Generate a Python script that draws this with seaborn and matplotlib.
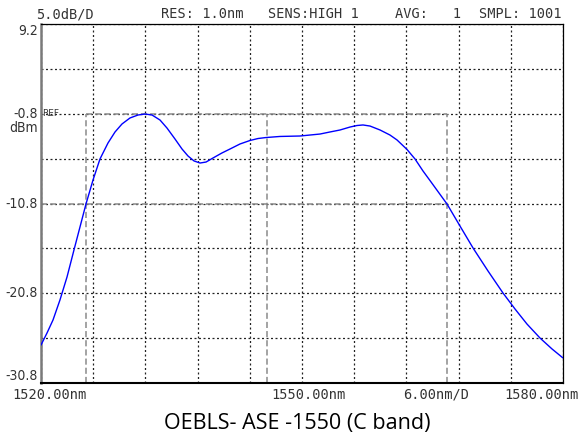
import numpy as np
import matplotlib
matplotlib.use('Agg')
import matplotlib.pyplot as plt
from matplotlib import font_manager
import pandas as pd
import seaborn as sns

# Trace (wavelength in nm, power in dBm)
wavelength_nm = [1520.00, 1520.69, 1521.38, 1522.18, 1522.99, 1523.79, 1524.48, 1525.17,
                 1525.98, 1526.78, 1527.70, 1528.51, 1529.31, 1530.23, 1531.15, 1531.95,
                 1532.76, 1533.68, 1534.48, 1535.40, 1536.21, 1536.90, 1537.59, 1538.28,
                 1538.97, 1539.77, 1540.80, 1541.72, 1542.87, 1544.02, 1544.94, 1545.86,
                 1547.47, 1549.77, 1552.07, 1553.22, 1554.37, 1555.52, 1556.32, 1557.01,
                 1557.82, 1558.97, 1560.11, 1560.92, 1562.07, 1562.99, 1563.91, 1564.83,
                 1565.75, 1566.67, 1568.16, 1569.66, 1571.38, 1573.10, 1574.48, 1575.86,
                 1577.36, 1578.74, 1580.00]
power_dbm = [-26.57, -25.23, -23.78, -21.55, -18.99, -15.98, -13.42, -10.86,
             -8.18, -5.84, -4.06, -2.83, -1.94, -1.27, -0.94, -0.83,
             -0.94, -1.50, -2.39, -3.61, -4.73, -5.51, -6.06, -6.29,
             -6.18, -5.73, -5.17, -4.73, -4.17, -3.78, -3.56, -3.45,
             -3.33, -3.28, -3.06, -2.83, -2.61, -2.28, -2.11, -2.05,
             -2.17, -2.61, -3.17, -3.72, -4.78, -5.84, -7.18, -8.40,
             -9.63, -10.86, -13.31, -15.76, -18.32, -20.77, -22.55, -24.23,
             -25.79, -27.01, -28.01]

# Screen settings
x_start, x_stop, x_div = 1520.0, 1580.0, 6.0
y_top, y_div = 9.2, 5.0
ref_level = -0.8
level_10db = -10.8
marker_left, marker_center, marker_right = 1525.17, 1545.92, 1566.67
y_labels = ['9.2', '-0.8', '-10.8', '-20.8', '-30.8']
header = ['5.0dB/D', 'RES: 1.0nm', 'SENS:HIGH 1', 'AVG:   1', 'SMPL: 1001']
x_labels = ['1520.00nm', '1550.00nm', '6.00nm/D', '1580.00nm']
title = 'OEBLS- ASE -1550 (C band)'

sns.set_style('white')
plt.rcParams['font.family'] = ['DejaVu Sans Mono']


def narrow_font():
    try:
        font_manager.findfont('Liberation Sans Narrow', fallback_to_default=False)
        return {'family': 'Liberation Sans Narrow'}
    except ValueError:
        return {'family': 'DejaVu Sans', 'fontstretch': 'condensed'}


W, H = 580, 441
fig = plt.figure(figsize=(W / 100, H / 100), dpi=100)
ax = fig.add_axes([41 / W, 1 - 383 / H, 522 / W, 359 / H])

df = pd.DataFrame({'nm': wavelength_nm, 'dbm': power_dbm})
sns.lineplot(data=df, x='nm', y='dbm', ax=ax, color='#0000ff', lw=1.0,
             estimator=None, sort=False, zorder=5)

y_bottom = y_top - 8 * y_div
ax.set_xlim(x_start, x_stop)
ax.set_ylim(y_bottom, y_top)
ax.set_xticks(np.arange(x_start, x_stop + 0.1, x_div))
ax.set_yticks(np.arange(y_bottom, y_top + 0.1, y_div))
ax.set_xticklabels([])
ax.set_yticklabels([])
ax.tick_params(length=0)
ax.set_xlabel('')
ax.set_ylabel('')
ax.grid(True, color='#222222', lw=0.9, linestyle=(0, (1.6, 2.0)), zorder=1)

# spines like the instrument frame
ax.spines['left'].set_color('#7a7a7a')
ax.spines['left'].set_linewidth(1.8)
ax.spines['bottom'].set_color('black')
ax.spines['bottom'].set_linewidth(1.5)
for s in ['top', 'right']:
    ax.spines[s].set_color('black')
    ax.spines[s].set_linewidth(0.9)

# markers (dashed gray)
mk = dict(color='#8a8a8a', lw=1.1, linestyle=(0, (4, 2)), zorder=2)
ax.vlines([marker_left, marker_center, marker_right], y_bottom, ref_level, **mk)
ax.hlines(ref_level, marker_left, marker_right, **mk)
ax.hlines(level_10db, x_start, marker_right, **mk)

# y labels
ytr = ax.get_yaxis_transform()
nf = narrow_font()
vals = [y_top, ref_level, level_10db, level_10db - 2 * y_div, y_bottom]
for lab, v in zip(y_labels, vals):
    va = 'center'
    if v == y_top:
        va = 'top'
    elif v == y_bottom:
        va = 'bottom'
    ax.text(-0.006, v, lab, transform=ytr, ha='right', va=va, fontsize=10,
            color='#333333', **nf)
ax.text(-0.006, ref_level - 1.55, 'dBm', transform=ytr, ha='right', va='center',
        fontsize=10, color='#333333', **nf)
ax.text(0.003, ref_level, 'REF', transform=ytr, ha='left', va='center',
        fontsize=6.5, color='#333333', family='DejaVu Sans')

# header line
for txt, px in zip(header, [36, 161, 268, 395, 479]):
    fig.text(px / W, 1 - 14 / H, txt, ha='left', va='center', fontsize=9.8,
             color='#333333')

# bottom labels
for txt, px in zip(x_labels, [12, 271, 403, 504]):
    fig.text(px / W, 1 - 395 / H, txt, ha='left', va='center', fontsize=9.8,
             color='#333333')

fig.text(297 / W, 1 - 423 / H, title, ha='center', va='center', fontsize=15.5,
         family='Open Sans', color='black')

fig.savefig('out.png', dpi=100)
